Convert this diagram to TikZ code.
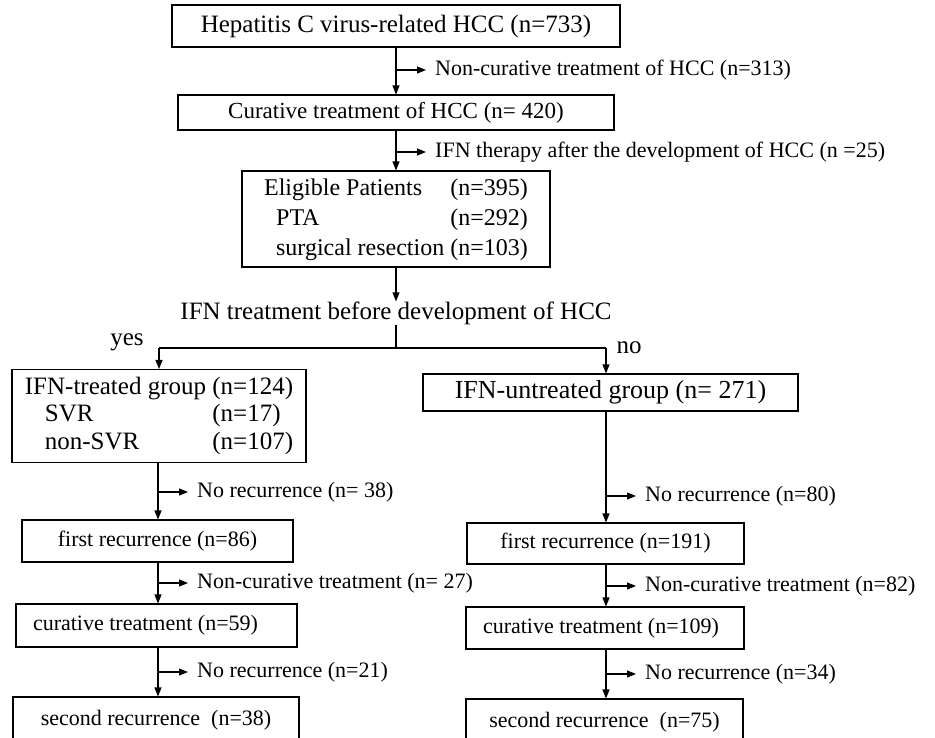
\documentclass[tikz,border=0pt]{standalone}
\usepackage{fontspec}
\setmainfont{Liberation Serif}
\usetikzlibrary{arrows.meta}
\newcommand{\fs}[1]{\fontsize{#1}{#1}\selectfont}
\tikzset{
  box/.style={draw, line width=1.1pt, inner sep=0pt, align=center},
  lbl/.style={anchor=west, inner xsep=9pt, inner ysep=0pt, font=\fs{22}},
  arr/.style={-{Triangle[length=9pt,width=7pt]}, line width=1.1pt},
  ln/.style={line width=1.1pt}
}
\begin{document}
\begin{tikzpicture}[x=1pt,y=-1pt]
\useasboundingbox (0,0) rectangle (935,737);
\clip (0,0) rectangle (935,737);
% boxes
\node[box, minimum width=448pt, minimum height=42pt, font=\fs{25}] (b1) at (396,26) {Hepatitis C virus-related HCC (n=733)};
\node[box, minimum width=436pt, minimum height=35pt, font=\fs{23}] (b2) at (396,112.5) {Curative treatment of HCC (n= 420)};
\node[box, minimum width=308pt, minimum height=96pt, font=\fontsize{24}{30}\selectfont] (b3) at (396,219)
  {\begin{tabular}{@{}l@{\ }l@{}}Eligible Patients & (n=395)\\ \hspace{12pt}PTA & (n=292)\\ \hspace{12pt}surgical resection & (n=103)\end{tabular}};
\node[inner sep=0pt, font=\fs{25}] (q) at (396,313) {IFN treatment before development of HCC};
\node[box, minimum width=294pt, minimum height=93pt, font=\fontsize{25}{27.5}\selectfont] (b4) at (159,416)
  {\begin{tabular}{@{}l@{\ }l@{}}IFN-treated group & (n=124)\\ \hspace{20pt}SVR & (n=17)\\ \hspace{20pt}non-SVR & (n=107)\end{tabular}};
\node[box, minimum width=375pt, minimum height=37pt, font=\fs{26}] (b5) at (610.5,392.5) {IFN-untreated group (n= 271)};
\node[font=\fs{25}, inner sep=0pt] (yes) at (127,342) {yes};
\node[font=\fs{25}, inner sep=0pt] (no) at (629,348) {no};
% left column
\node[box, minimum width=271pt, minimum height=42pt, font=\fs{22}] (L1) at (157.5,541) {first recurrence (n=86)};
\node[box, minimum width=281pt, minimum height=43pt, font=\fs{22}] (L2) at (156.5,625.5) {curative treatment (n=59)\hspace{22pt}};
\node[box, minimum width=286pt, minimum height=46pt, font=\fs{22}] (L3) at (156,720) {second recurrence\ \ (n=38)};
% right column
\node[box, minimum width=277pt, minimum height=41pt, font=\fs{22}] (R1) at (605.5,543.5) {first recurrence (n=191)};
\node[box, minimum width=278pt, minimum height=42pt, font=\fs{22}] (R2) at (605,628) {curative treatment (n=109)\hspace{8pt}};
\node[box, minimum width=277pt, minimum height=46pt, font=\fs{22}] (R3) at (604.5,722) {second recurrence\ \ (n=75)};
% column coordinates
\coordinate (cL) at (158,0);
\coordinate (cR) at (606,0);
% top chain
\draw[arr] (b1.south) -- (b2.north);
\draw[arr] (b2.south) -- (b3.north);
\draw[arr] (b3.south) -- (q.north);
\coordinate (j1) at (396,70);
\coordinate (j2) at (396,152);
\node[lbl] (t1) at (426,70) {Non-curative treatment of HCC (n=313)};
\node[lbl] (t2) at (426,152) {IFN therapy after the development of HCC (n =25)};
\draw[arr] (j1) -- (t1.west);
\draw[arr] (j2) -- (t2.west);
% split
\coordinate (hl) at (159,348);
\coordinate (hr) at (606,348);
\draw[ln] (q.south) -- (q.south |- hl);
\draw[ln] (hl) -- (hr);
\draw[arr] (hl) -- (hl |- b4.north);
\draw[arr] (hr) -- (hr |- b5.north);
% left chain
\draw[arr] (b4.south -| cL) -- (L1.north -| cL);
\draw[arr] (L1.south -| cL) -- (L2.north -| cL);
\draw[arr] (L2.south -| cL) -- (L3.north -| cL);
\coordinate (k1) at (158,492);
\coordinate (k2) at (158,583);
\coordinate (k3) at (158,672);
\node[lbl] (u1) at (188,492) {No recurrence (n= 38)};
\node[lbl] (u2) at (188,583) {Non-curative treatment (n= 27)};
\node[lbl] (u3) at (188,672) {No recurrence (n=21)};
\draw[arr] (k1) -- (u1.west);
\draw[arr] (k2) -- (u2.west);
\draw[arr] (k3) -- (u3.west);
% right chain
\draw[arr] (b5.south -| cR) -- (R1.north -| cR);
\draw[arr] (R1.south -| cR) -- (R2.north -| cR);
\draw[arr] (R2.south -| cR) -- (R3.north -| cR);
\coordinate (m1) at (606,496);
\coordinate (m2) at (606,586);
\coordinate (m3) at (606,674);
\node[lbl] (v1) at (636,496) {No recurrence (n=80)};
\node[lbl] (v2) at (636,586) {Non-curative treatment (n=82)};
\node[lbl] (v3) at (636,674) {No recurrence (n=34)};
\draw[arr] (m1) -- (v1.west);
\draw[arr] (m2) -- (v2.west);
\draw[arr] (m3) -- (v3.west);
\end{tikzpicture}
\end{document}
